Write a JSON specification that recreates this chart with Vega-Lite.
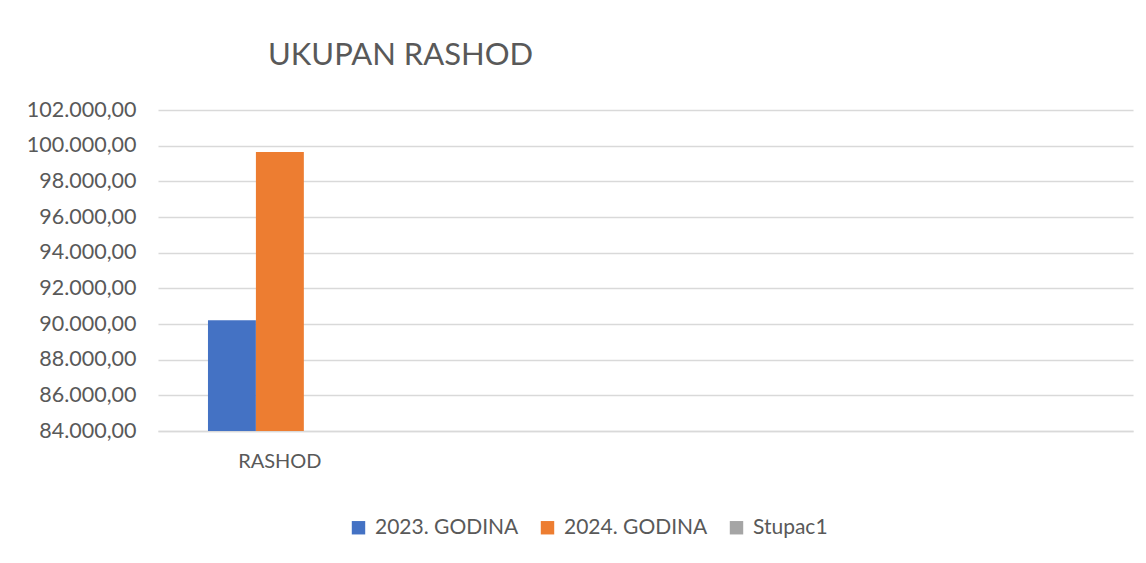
{
  "$schema": "https://vega.github.io/schema/vega-lite/v6.json",
  "width": 975,
  "height": 321,
  "autosize": {"type": "none"},
  "padding": {"left": 158, "top": 110, "right": 13, "bottom": 132},
  "config": {
    "locale": {"number": {"decimal": ",", "thousands": ".", "grouping": [3], "currency": ["", " kn"]}},
    "view": {"stroke": null},
    "font": "Lato"
  },
  "title": {
    "text": "UKUPAN RASHOD",
    "anchor": "start",
    "frame": "group",
    "dx": 110,
    "fontSize": 31,
    "fontWeight": "normal",
    "color": "#595959",
    "font": "Lato",
    "offset": 27
  },
  "data": {
    "values": [
      {"kategorija": "RASHOD", "serija": "2023. GODINA", "iznos": 90210},
      {"kategorija": "RASHOD", "serija": "2024. GODINA", "iznos": 99650}
    ]
  },
  "mark": {"type": "bar"},
  "encoding": {
    "x": {
      "field": "kategorija",
      "type": "nominal",
      "scale": {"domain": ["RASHOD", "k2", "k3", "k4"], "paddingInner": 0.41, "paddingOuter": 0.205},
      "axis": {
        "title": null,
        "labelAngle": 0,
        "labelExpr": "datum.value == 'RASHOD' ? datum.value : ''",
        "ticks": false,
        "domainColor": "#d9d9d9",
        "domainWidth": 1.5,
        "labelFontSize": 20,
        "labelColor": "#595959",
        "labelPadding": 20
      }
    },
    "xOffset": {
      "field": "serija",
      "type": "nominal",
      "scale": {"domain": ["2023. GODINA", "2024. GODINA", "Stupac1"], "paddingInner": 0, "paddingOuter": 0}
    },
    "y": {
      "field": "iznos",
      "type": "quantitative",
      "scale": {"domain": [84000, 102000], "zero": false, "nice": false},
      "axis": {
        "title": null,
        "values": [84000, 86000, 88000, 90000, 92000, 94000, 96000, 98000, 100000, 102000],
        "format": ",.2f",
        "domain": false,
        "ticks": false,
        "gridColor": "#d9d9d9",
        "gridWidth": 1.5,
        "labelFontSize": 21.5,
        "labelColor": "#595959",
        "labelPadding": 22
      }
    },
    "y2": {"datum": 84000},
    "color": {
      "field": "serija",
      "type": "nominal",
      "scale": {"domain": ["2023. GODINA", "2024. GODINA", "Stupac1"], "range": ["#4472C4", "#ED7D31", "#A5A5A5"]},
      "legend": {
        "title": null,
        "orient": "none",
        "legendX": 190,
        "legendY": 407,
        "direction": "horizontal",
        "symbolType": "square",
        "symbolSize": 180,
        "symbolStrokeWidth": 0,
        "labelFontSize": 21,
        "labelColor": "#595959",
        "columnPadding": 18,
        "labelOffset": 6
      }
    }
  }
}
